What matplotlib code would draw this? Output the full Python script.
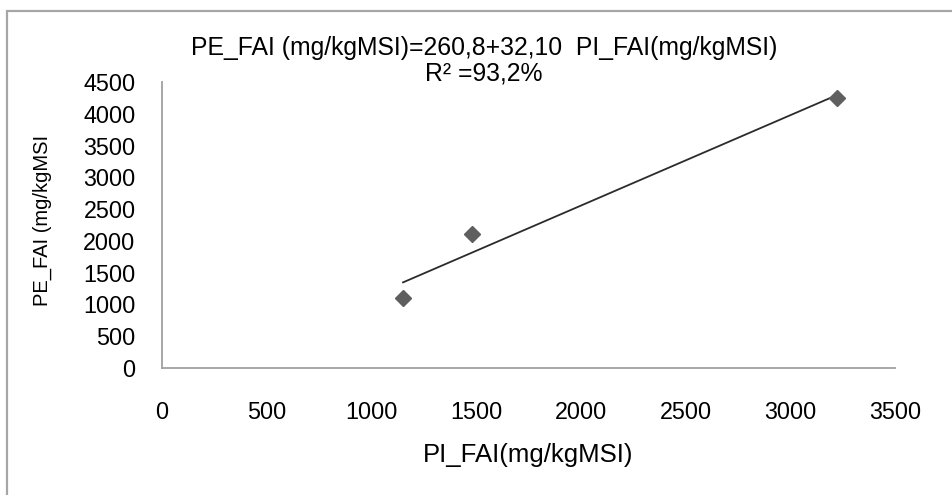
import numpy as np
import matplotlib
matplotlib.use("Agg")
import matplotlib.pyplot as plt
from matplotlib.patches import Rectangle

# Data
pi_fai = [1151, 1480, 3223]
pe_fai = [1101, 2108, 4248]
x_ticks = [0, 500, 1000, 1500, 2000, 2500, 3000, 3500]
y_ticks = [0, 500, 1000, 1500, 2000, 2500, 3000, 3500, 4000, 4500]
title_line1 = "PE_FAI (mg/kgMSI)=260,8+32,10  PI_FAI(mg/kgMSI)"
title_line2 = "R² =93,2%"
x_label = "PI_FAI(mg/kgMSI)"
y_label = "PE_FAI (mg/kgMSI"

plt.rcParams['font.family'] = ['Liberation Sans', 'DejaVu Sans']

W, H = 953, 495
fig = plt.figure(figsize=(W / 100, H / 100), dpi=100)
fig.patch.set_facecolor('white')

# outer chart border (top and left visible)
fig.patches.append(Rectangle((7 / W, -0.1), 1.2, 1 - 11 / H + 0.1,
                             transform=fig.transFigure, fill=False,
                             edgecolor='#a6a6a6', linewidth=1.6))

ax = fig.add_axes([162 / W, (H - 368) / H, (895 - 162) / W, (368 - 82) / H])
ax.set_xlim(0, 3500)
ax.set_ylim(0, 4500)
ax.set_xticks(x_ticks)
ax.set_yticks(y_ticks)
ax.set_xticklabels([str(v) for v in x_ticks], fontsize=16.8)
ax.set_yticklabels([str(v) for v in y_ticks], fontsize=16.8)
ax.tick_params(axis='both', length=0)
ax.tick_params(axis='x', pad=24)
ax.tick_params(axis='y', pad=19)

for s in ['top', 'right']:
    ax.spines[s].set_visible(False)
for s in ['left', 'bottom']:
    ax.spines[s].set_color('#a0a0a0')
    ax.spines[s].set_linewidth(1.3)

# regression line over data range
coef = np.polyfit(pi_fai, pe_fai, 1)
xs = np.array([min(pi_fai), max(pi_fai)])
ax.plot(xs, np.polyval(coef, xs), color='#2b2b2b', linewidth=1.3, zorder=2)

ax.plot(pi_fai, pe_fai, linestyle='none', marker='D', markersize=8,
        color='#5f5f5f', markeredgecolor='#5f5f5f', zorder=3)

fig.text(484 / W, 1 - 48 / H, title_line1, ha='center', va='center', fontsize=17.8)
fig.text(484 / W, 1 - 74 / H, title_line2, ha='center', va='center', fontsize=17.8)
fig.text(528 / W, 1 - 455 / H, x_label, ha='center', va='center', fontsize=18.5)
fig.text(42 / W, 1 - 220 / H, y_label, ha='center', va='center',
         rotation=90, fontsize=14.5)

fig.savefig('out.png', dpi=100)
